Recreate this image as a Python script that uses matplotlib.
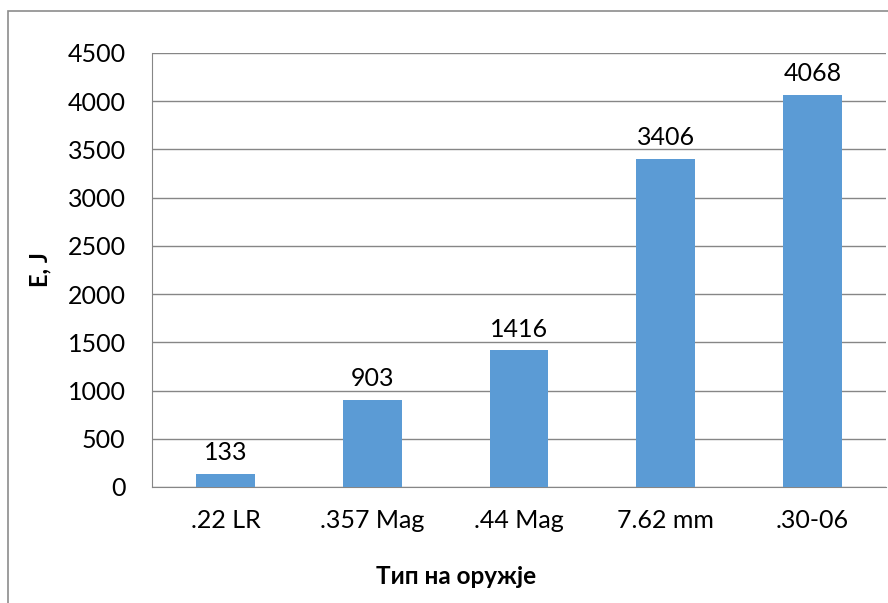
import matplotlib
matplotlib.use("Agg")
import matplotlib.pyplot as plt
from matplotlib.patches import Rectangle

categories = [".22 LR", ".357 Mag", ".44 Mag", "7.62 mm", ".30-06"]
energy = [133, 903, 1416, 3406, 4068]
y_ticks = [0, 500, 1000, 1500, 2000, 2500, 3000, 3500, 4000, 4500]

plt.rcParams["font.family"] = ["Lato", "DejaVu Sans"]

W, H = 888, 603
fig = plt.figure(figsize=(W / 100, H / 100), dpi=100)

# outer chart frame
fig.patches.append(Rectangle((8 / W, -0.05), 1.1, 1 - 11 / H + 0.05,
                             transform=fig.transFigure, fill=False,
                             edgecolor="#8c8c8c", linewidth=1.2))

ax = fig.add_axes([152 / W, 1 - 487 / H, (886 - 152) / W, (487 - 53) / H])
x = range(len(categories))
bars = ax.bar(x, energy, width=0.4, color="#5B9BD5", zorder=3)

ax.set_xlim(-0.5, len(categories) - 0.5)
ax.set_ylim(0, 4500)
ax.set_yticks(y_ticks)
ax.set_xticks(list(x))
ax.set_xticklabels(categories)
ax.tick_params(axis="both", length=0, labelsize=18, colors="black")
ax.tick_params(axis="x", pad=16)
ax.tick_params(axis="y", pad=19)
ax.grid(axis="y", color="#868686", linewidth=1.0, zorder=0)

for side in ("top", "right"):
    ax.spines[side].set_visible(False)
ax.spines["left"].set_color("#868686")
ax.spines["bottom"].set_color("#868686")

for b, v in zip(bars, energy):
    ax.annotate(str(v), (b.get_x() + b.get_width() / 2, v),
                xytext=(0, 7), textcoords="offset points",
                ha="center", va="bottom", fontsize=18)

fig.text(40 / W, 1 - 270 / H, "E, J", rotation=90, ha="center", va="center",
         fontsize=17, fontweight="bold")
fig.text(456 / W, 1 - 577 / H, "Тип на оружје", ha="center", va="center",
         fontsize=17.5, fontweight="bold")

fig.savefig("out.png", dpi=100)
